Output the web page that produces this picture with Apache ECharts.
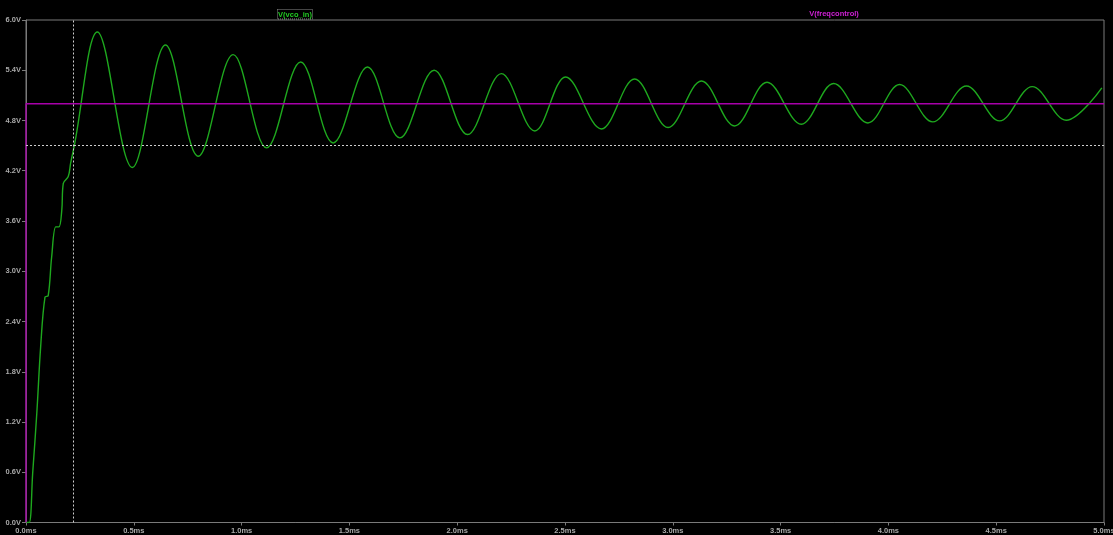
<!DOCTYPE html>
<html>
<head>
<meta charset="utf-8">
<title>VCO loop transient</title>
<script src="https://cdn.jsdelivr.net/npm/echarts@6/dist/echarts.min.js"></script>
<style>
  html, body { margin: 0; padding: 0; background: #000; }
  #chart { width: 1113px; height: 535px; }
</style>
</head>
<body>
<div id="chart"></div>
<script>
// Trace names
const traceNames = ['V(vco_in)', 'V(freqcontrol)'];

// V(vco_in): start-up ramp, then alternating peaks and troughs of the ringing
const vcoTime = [
  0, 0.015, 0.031, 0.050, 0.068, 0.088, 0.103, 0.119, 0.138, 0.153, 0.166, 0.173, 0.196, 0.207, 0.224,
  0.331, 0.493, 0.647, 0.799, 0.961, 1.116, 1.274, 1.425, 1.584, 1.734,
  1.893, 2.048, 2.205, 2.360, 2.503, 2.669, 2.823, 2.978, 3.133, 3.287,
  3.437, 3.596, 3.746, 3.905, 4.052, 4.206, 4.362, 4.516, 4.667, 4.825,
  4.990
];
const vcoVolts = [
  0, 0, 0.59, 1.30, 2.10, 2.69, 2.71, 3.17, 3.53, 3.53, 3.73, 4.05, 4.13, 4.29, 4.50,
  5.857, 4.239, 5.702, 4.373, 5.587, 4.473, 5.499, 4.532, 5.439, 4.592,
  5.400, 4.632, 5.360, 4.675, 5.320, 4.699, 5.296, 4.716, 5.272, 4.735,
  5.257, 4.755, 5.241, 4.771, 5.229, 4.783, 5.212, 4.795, 5.205, 4.803,
  5.190
];

// V(freqcontrol): steps to 5 V at t = 0
const freqTime = [0, 0, 5.0];
const freqVolts = [0, 5.0, 5.0];

// Cursor position
const cursorTime = 0.224;
const cursorVolts = 4.50;

// Axis ticks
const timeTicks = { min: 0, max: 5, step: 0.5 };
const voltTicks = { min: 0, max: 6, step: 0.6 };

const zip = (xs, ys) => xs.map((x, i) => [x, ys[i]]);

const labelFont = {
  color: '#a9a9a9',
  fontSize: 7.5,
  fontWeight: 'bold',
  fontFamily: 'Liberation Sans, Arial, sans-serif'
};

const chart = echarts.init(document.getElementById('chart'), null, { renderer: 'canvas' });

chart.setOption({
  backgroundColor: '#000000',
  animation: false,
  grid: {
    left: 26, right: 9, top: 20, bottom: 12.5,
    outerBoundsMode: 'none',
    containLabel: false,
    show: true, borderColor: '#7a7a7a', borderWidth: 1, backgroundColor: 'transparent'
  },
  xAxis: {
    type: 'value',
    min: timeTicks.min, max: timeTicks.max, interval: timeTicks.step,
    axisLine: { show: true, lineStyle: { color: '#7a7a7a', width: 1 } },
    axisTick: { show: true, length: 3, lineStyle: { color: '#7a7a7a' } },
    splitLine: { show: false },
    axisLabel: Object.assign({ margin: 4, hideOverlap: false, formatter: v => v.toFixed(1) + 'ms' }, labelFont)
  },
  yAxis: {
    type: 'value',
    min: voltTicks.min, max: voltTicks.max, interval: voltTicks.step,
    axisLine: { show: true, lineStyle: { color: '#7a7a7a', width: 1 } },
    axisTick: { show: true, length: 4, lineStyle: { color: '#7a7a7a' } },
    splitLine: { show: false },
    axisLabel: Object.assign({ margin: 5, formatter: v => v.toFixed(1) + 'V' }, labelFont)
  },
  series: [
    {
      name: traceNames[0],
      type: 'line',
      data: zip(vcoTime, vcoVolts),
      smooth: 0.36,
      showSymbol: false,
      lineStyle: { color: '#1ea81e', width: 1.4 },
      z: 3,
      markLine: {
        silent: true,
        symbol: 'none',
        label: { show: false },
        lineStyle: { color: '#cfcfcf', type: [2, 2], width: 1 },
        data: [{ xAxis: cursorTime }, { yAxis: cursorVolts }]
      }
    },
    {
      name: traceNames[1],
      type: 'line',
      data: zip(freqTime, freqVolts),
      showSymbol: false,
      lineStyle: { color: '#a800aa', width: 1.3 },
      z: 4
    }
  ],
  graphic: [
    {
      type: 'rect',
      shape: { x: 277.5, y: 9.5, width: 35, height: 9.5 },
      style: { fill: 'none', stroke: '#8a8a8a', lineWidth: 1, lineDash: [1, 1] }
    },
    {
      type: 'text',
      x: 295, y: 14.5,
      style: {
        text: traceNames[0], fill: '#22cc22', align: 'center', verticalAlign: 'middle',
        font: 'bold 7.5px "Liberation Sans", Arial, sans-serif'
      }
    },
    {
      type: 'text',
      x: 834, y: 14,
      style: {
        text: traceNames[1], fill: '#d020d6', align: 'center', verticalAlign: 'middle',
        font: 'bold 7.5px "Liberation Sans", Arial, sans-serif'
      }
    }
  ]
});
</script>
</body>
</html>
